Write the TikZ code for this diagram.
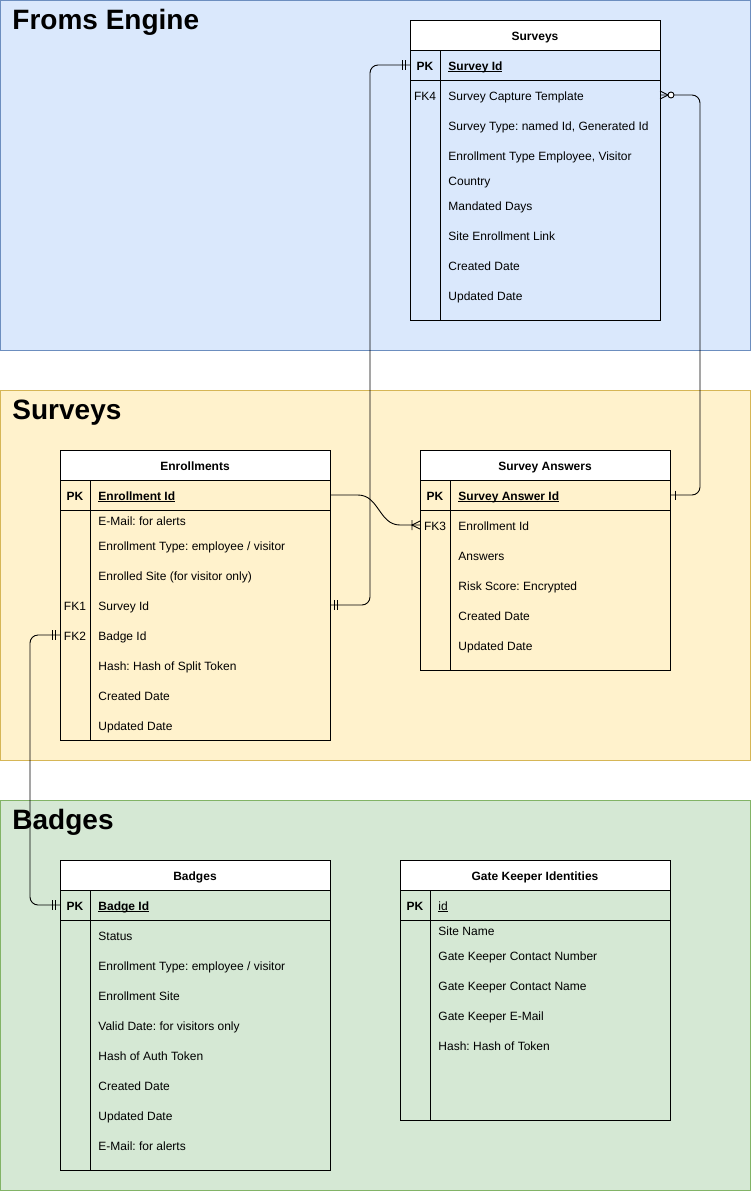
\documentclass[tikz,border=0pt]{standalone}
\usepackage{fontspec}
\setmainfont{Liberation Sans}
\frenchspacing

\definecolor{blueFill}{HTML}{DAE8FC}
\definecolor{blueLine}{HTML}{6C8EBF}
\definecolor{yellowFill}{HTML}{FFF2CC}
\definecolor{yellowLine}{HTML}{D6B656}
\definecolor{greenFill}{HTML}{D5E8D4}
\definecolor{greenLine}{HTML}{82B366}

\tikzset{
  regiontitle/.style={anchor=base west, inner sep=0, font=\fontsize{28}{32}\selectfont\bfseries},
  tabtitle/.style={anchor=base, inner sep=0, yshift=-5pt, font=\fontsize{12}{14}\selectfont\bfseries},
  attr/.style={anchor=base west, inner sep=0, yshift=-5pt, font=\fontsize{12}{14}\selectfont},
  keylbl/.style={anchor=base, inner sep=0, yshift=-5pt, font=\fontsize{12}{14}\selectfont},
  keybold/.style={keylbl, font=\fontsize{12}{14}\selectfont\bfseries},
  relation/.style={rounded corners=8pt},
  pics/twobar/.style={code={\draw (-4.5,-5) -- (-4.5,5) (-7.5,-5) -- (-7.5,5);}},
  pics/onebar/.style={code={\draw (-5,-4.5) -- (-5,4.5);}},
  pics/zeromany/.style={code={\draw (0,-4) -- (-8,0) -- (0,4); \filldraw[fill=white] (-11,0) circle (3pt);}},
  pics/onemany/.style={code={\draw (0,-4) -- (-8,0) -- (0,4) (-8,-5) -- (-8,5);}}
}

% table frame: name, left, top, right, bottom, key column, title
\newcommand{\ertable}[7]{%
  \filldraw[fill=white] (#2,#3) rectangle (#4,#3+30);
  \draw (#2,#3) rectangle (#4,#5);
  \draw (#2,#3+60) -- (#4,#3+60);
  \draw (#6,#3+30) -- (#6,#5);
  \node[tabtitle] (#1) at ({(#2+#4)/2},#3+15) {#7};
}
\newcommand{\keyname}[1]{\textbf{\underline{\smash{#1}}}}

\begin{document}
\begin{tikzpicture}[x=1pt, y=-1pt, line width=0.9pt]

\useasboundingbox (0,0) rectangle (752,1191);
\fill[white] (0,0) rectangle (752,1191);

% regions
\filldraw[fill=blueFill, draw=blueLine] (0.5,0.5) rectangle (750.5,350);
\filldraw[fill=yellowFill, draw=yellowLine] (0.5,390) rectangle (750.5,760);
\filldraw[fill=greenFill, draw=greenLine] (0.5,800) rectangle (750.5,1190.5);

\node[regiontitle] (frmTitle) at (12,29) {Froms Engine};
\node[regiontitle] (svyTitle) at (12,419) {Surveys};
\node[regiontitle] (bdgTitle) at (12,829) {Badges};

% Surveys
\ertable{srvT}{410}{20}{660}{320}{440}{Surveys}
\node[keybold] (srvPKk) at (425,65) {PK};
\node[attr] (srvPKa) at (448,65) {\keyname{Survey Id}};
\node[keylbl] (srvFK4) at (425,95) {FK4};
\foreach \y/\t [count=\i] in {95/Survey Capture Template, 125/{Survey Type: named Id, Generated Id},
  155/{Enrollment Type Employee, Visitor}, 180/Country, 205/Mandated Days,
  235/Site Enrollment Link, 265/Created Date, 295/Updated Date}
  \node[attr] (srv\i) at (448,\y) {\t};

% Enrollments
\ertable{enrT}{60}{450}{330}{740}{90}{Enrollments}
\node[keybold] (enrPKk) at (75,495) {PK};
\node[attr] (enrPKa) at (98,495) {\keyname{Enrollment Id}};
\node[keylbl] (enrFK1) at (75,605) {FK1};
\node[keylbl] (enrFK2) at (75,635) {FK2};
\foreach \y/\t [count=\i] in {520/{E-Mail: for alerts}, 545/{Enrollment Type: employee / visitor},
  575/{Enrolled Site (for visitor only)}, 605/Survey Id, 635/Badge Id,
  665/{Hash: Hash of Split Token}, 695/Created Date, 725/Updated Date}
  \node[attr] (enr\i) at (98,\y) {\t};

% Survey Answers
\ertable{saT}{420}{450}{670}{670}{450}{Survey Answers}
\node[keybold] (saPKk) at (435,495) {PK};
\node[attr] (saPKa) at (458,495) {\keyname{Survey Answer Id}};
\node[keylbl] (saFK3) at (435,525) {FK3};
\foreach \y/\t [count=\i] in {525/Enrollment Id, 555/Answers, 585/{Risk Score: Encrypted},
  615/Created Date, 645/Updated Date}
  \node[attr] (sa\i) at (458,\y) {\t};

% Badges
\ertable{bdgT}{60}{860}{330}{1170}{90}{Badges}
\node[keybold] (bdgPKk) at (75,905) {PK};
\node[attr] (bdgPKa) at (98,905) {\keyname{Badge Id}};
\foreach \y/\t [count=\i] in {935/Status, 965/{Enrollment Type: employee / visitor},
  995/Enrollment Site, 1025/{Valid Date: for visitors only}, 1055/Hash of Auth Token,
  1085/Created Date, 1115/Updated Date, 1145/{E-Mail: for alerts}}
  \node[attr] (bdg\i) at (98,\y) {\t};

% Gate Keeper Identities
\ertable{gkT}{400}{860}{670}{1120}{430}{Gate Keeper Identities}
\node[keybold] (gkPKk) at (415,905) {PK};
\node[attr] (gkPKa) at (438,905) {\underline{\smash{id}}};
\foreach \y/\t [count=\i] in {930/Site Name, 955/Gate Keeper Contact Number,
  985/Gate Keeper Contact Name, 1015/Gate Keeper E-Mail, 1045/{Hash: Hash of Token}}
  \node[attr] (gk\i) at (438,\y) {\t};

% connector ends
\coordinate (srvPKw) at (410,65);
\coordinate (srvFK4e) at (660,95);
\coordinate (enrPKe) at (330,495);
\coordinate (enrFK1e) at (330,605);
\coordinate (enrFK2w) at (60,635);
\coordinate (saPKe) at (670,495);
\coordinate (saFK3w) at (420,525);
\coordinate (bdgPKw) at (60,905);

% relations
\draw[relation] (enrFK1e) -- ++(40,0) |- (srvPKw);
\draw[relation] (srvFK4e) -- ++(40,0) |- (saPKe);
\draw[relation] (enrFK2w) -- ++(-30,0) |- (bdgPKw);
\draw (enrPKe) -- ++(28,0) .. controls ++(21,0) and (379,525) .. (400,525) -- (saFK3w);

\pic at (srvPKw) {twobar};
\pic[xscale=-1] at (enrFK1e) {twobar};
\pic[xscale=-1] at (srvFK4e) {zeromany};
\pic[xscale=-1] at (saPKe) {onebar};
\pic at (saFK3w) {onemany};
\pic at (enrFK2w) {twobar};
\pic at (bdgPKw) {twobar};

\end{tikzpicture}
\end{document}
